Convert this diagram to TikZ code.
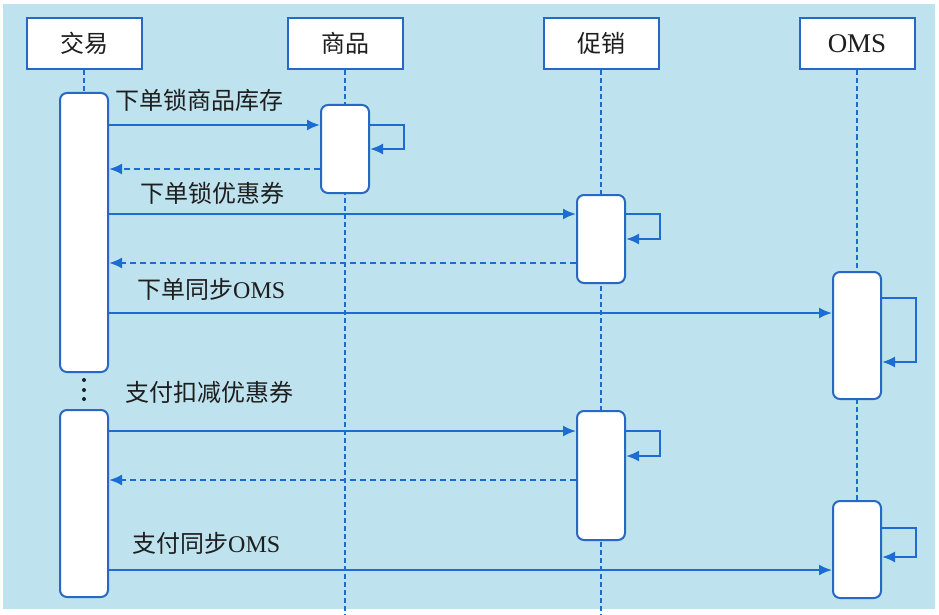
\documentclass[tikz,border=0pt]{standalone}
\usepackage{fontspec}
\setmainfont{Liberation Serif}
\newfontfamily\cjk{Noto Sans CJK SC}
\usepackage{tikz}
\usetikzlibrary{arrows.meta,positioning}
\definecolor{bgblue}{RGB}{190,227,238}
\definecolor{lineblue}{RGB}{28,108,212}
\definecolor{boxblue}{RGB}{40,104,196}
\definecolor{txt}{RGB}{30,30,30}
\tikzset{
  head/.style={draw=boxblue, line width=2pt, fill=white, minimum width=115pt, minimum height=51pt, font=\fontsize{24}{27}\selectfont\cjk, text=txt},
  act/.style={draw=boxblue, line width=2pt, fill=white, rounded corners=7pt, minimum width=48pt},
  life/.style={lineblue, line width=1.6pt, dash pattern=on 5pt off 3pt},
  msg/.style={lineblue, line width=2pt, -{Latex[length=13pt,width=11pt]}},
  ret/.style={msg, dash pattern=on 6pt off 4pt},
  lbl/.style={anchor=west, inner sep=0pt, text=txt, font=\fontsize{24}{28}\selectfont\cjk}
}

\begin{document}
\begin{tikzpicture}[x=1pt,y=-1pt]
  \fill[white] (0,0) rectangle (939,615);
  \fill[bgblue] (3,4) rectangle (935,609);
  \useasboundingbox (0,0) rectangle (939,615);

  \node[head] (jy)  at (84,43.5)  {交易};
  \node[head] (sp)  at (345,43.5) {商品};
  \node[head] (cx)  at (601,43.5) {促销};
  \node[head, font=\fontsize{27}{30}\selectfont\rmfamily] (oms) at (857,44) {OMS};

  \coordinate (bot) at (0,615);
  \draw[life] (jy.south) -- (84,93);
  \draw[life] (sp.south) -- (sp.south |- bot);
  \draw[life] (cx.south) -- (cx.south |- bot);
  \draw[life] (oms.south) -- (857,501);

  \node[act, minimum height=279pt] (jy1)  at (84,232.5)  {};
  \node[act, minimum height=187pt] (jy2)  at (84,503.5)  {};
  \node[act, minimum height=88pt]  (sp1)  at (345,149)   {};
  \node[act, minimum height=88pt]  (cx1)  at (601,239)   {};
  \node[act, minimum height=129pt] (cx2)  at (601,475.5) {};
  \node[act, minimum height=127pt] (oms1) at (857,335.5) {};
  \node[act, minimum height=97pt]  (oms2) at (857,549.5) {};

  \foreach \y in {380,390,399}
    \fill[txt] (84,\y) circle (2pt);

  \node[lbl] (l1) at (115,100) {下单锁商品库存};
  \node[lbl] (l2) at (140,193) {下单锁优惠券};
  \node[lbl] (l3) at (137,289) {下单同步{\rmfamily OMS}};
  \node[lbl] (l4) at (125,392) {支付扣减优惠券};
  \node[lbl] (l5) at (132,543) {支付同步{\rmfamily OMS}};

  \draw[msg] (jy1.east |- 0,125) -- (sp1.west |- 0,125);
  \draw[msg] (sp1.east |- 0,125) -- ++(34,0) |- (sp1.east |- 0,149);
  \draw[ret] (sp1.west |- 0,169) -- (jy1.east |- 0,169);

  \draw[msg] (jy1.east |- 0,214) -- (cx1.west |- 0,214);
  \draw[msg] (cx1.east |- 0,214) -- ++(34,0) |- (cx1.east |- 0,239);
  \draw[ret] (cx1.west |- 0,263) -- (jy1.east |- 0,263);

  \draw[msg] (jy1.east |- 0,313) -- (oms1.west |- 0,313);
  \draw[msg] (oms1.east |- 0,298) -- ++(34,0) |- (oms1.east |- 0,362);

  \draw[msg] (jy2.east |- 0,431) -- (cx2.west |- 0,431);
  \draw[msg] (cx2.east |- 0,431) -- ++(34,0) |- (cx2.east |- 0,456);
  \draw[ret] (cx2.west |- 0,480) -- (jy2.east |- 0,480);

  \draw[msg] (jy2.east |- 0,570) -- (oms2.west |- 0,570);
  \draw[msg] (oms2.east |- 0,528) -- ++(34,0) |- (oms2.east |- 0,557);
\end{tikzpicture}
\end{document}
